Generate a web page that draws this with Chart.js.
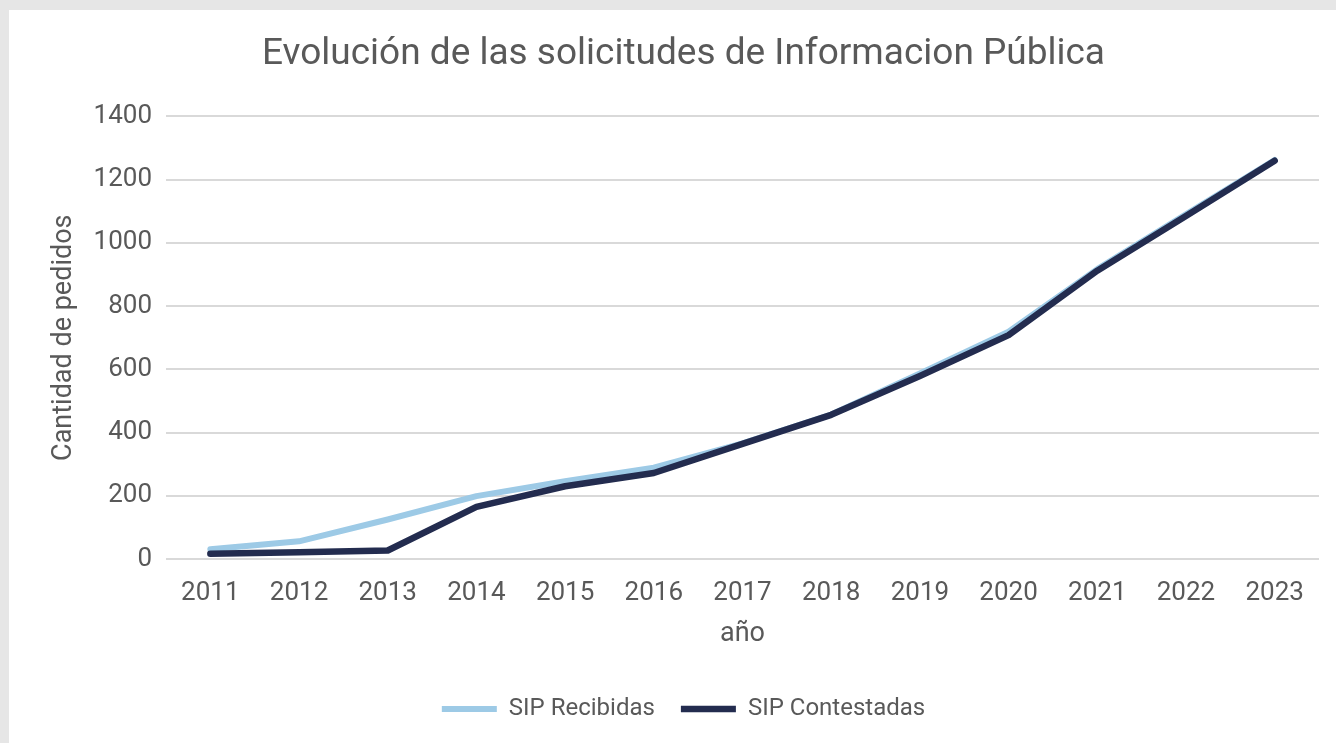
<!DOCTYPE html>
<html>
<head>
<meta charset="utf-8">
<script src="https://cdn.jsdelivr.net/npm/chart.js@4"></script>
<style>
  html, body { margin: 0; padding: 0; background: #e6e6e6; overflow: hidden; }
  #wrap { position: absolute; left: 9px; top: 10px; width: 1327px; height: 733px; background: #ffffff; }
</style>
</head>
<body>
<div id="wrap"><canvas id="chartCanvas" width="1327" height="733"></canvas></div>
<script>
var years = ['2011', '2012', '2013', '2014', '2015', '2016', '2017', '2018', '2019', '2020', '2021', '2022', '2023'];
var recibidas = [31, 56, 125, 199, 246, 289, 366, 457, 587, 719, 917, 1090, 1262];
var contestadas = [17, 21, 27, 165, 230, 272, 364, 456, 579, 708, 912, 1085, 1260];
var yTicks = [0, 200, 400, 600, 800, 1000, 1200, 1400];

var FONT = 'Roboto';
var GREY = '#595959';

var ctx = document.getElementById('chartCanvas').getContext('2d');
new Chart(ctx, {
  type: 'line',
  data: {
    labels: years,
    datasets: [
      {
        label: 'SIP Recibidas',
        data: recibidas,
        order: 2, // drawn underneath
        borderColor: '#9dcae6',
        backgroundColor: '#9dcae6',
        borderWidth: 6,
        borderCapStyle: 'round',
        borderJoinStyle: 'round',
        pointRadius: 0,
        tension: 0
      },
      {
        label: 'SIP Contestadas',
        data: contestadas,
        order: 1,
        borderColor: '#232c4f',
        backgroundColor: '#232c4f',
        borderWidth: 6.5,
        borderCapStyle: 'round',
        borderJoinStyle: 'round',
        pointRadius: 0,
        tension: 0
      }
    ]
  },
  options: {
    responsive: false,
    animation: false,
    layout: { padding: { left: 39, right: 17, top: 0, bottom: 12 } },
    plugins: {
      title: {
        display: true,
        text: 'Evolución de las solicitudes de Informacion Pública',
        color: GREY,
        font: { family: FONT, size: 37, weight: 'normal' },
        padding: { top: 23, bottom: 39 }
      },
      legend: {
        position: 'bottom',
        labels: {
          usePointStyle: true,
          pointStyle: 'line',
          pointStyleWidth: 55,
          color: GREY,
          font: { family: FONT, size: 24 },
          padding: 26,
          sort: function(a, b) { return a.datasetIndex - b.datasetIndex; }
        }
      },
      tooltip: { enabled: false }
    },
    scales: {
      x: {
        offset: true,
        grid: { display: false },
        border: { display: false },
        afterFit: function(axis) { axis.height = 112; },
        ticks: { color: GREY, font: { family: FONT, size: 26 }, padding: 11 },
        title: { display: true, text: 'año', color: GREY, font: { family: FONT, size: 27 }, padding: { top: 0, bottom: 21 } }
      },
      y: {
        min: 0,
        max: 1400,
        afterBuildTicks: function(axis) {
          axis.ticks = yTicks.map(function(v) { return { value: v }; });
        },
        afterFit: function(axis) { axis.width = 118; },
        grid: { color: '#d9d9d9', lineWidth: 2, drawTicks: false },
        border: { display: false },
        ticks: {
          color: GREY,
          font: { family: FONT, size: 26 },
          padding: 14,
          callback: function(v) { return String(v); }
        },
        title: { display: true, text: 'Cantidad de pedidos', color: GREY, font: { family: FONT, size: 27 }, padding: { top: 0, bottom: 0 } }
      }
    }
  }
});
</script>
</body>
</html>
